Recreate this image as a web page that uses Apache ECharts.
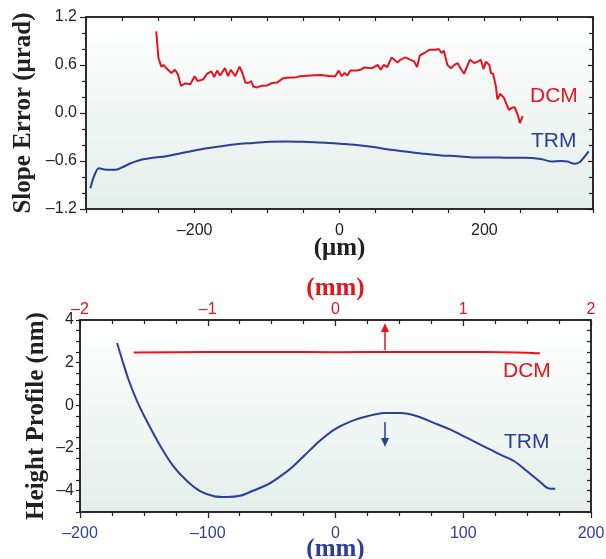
<!DOCTYPE html>
<html><head><meta charset="utf-8">
<script src="https://cdn.jsdelivr.net/npm/echarts@6/dist/echarts.min.js"></script>
<style>html,body{margin:0;padding:0;background:#fff}#c{width:606px;height:559px}</style>
</head><body><div id="c"></div>
<script>
// ---- Top panel: slope error (µrad) vs position (µm)
const dcmSlopeX = [-253,-250,-246,-243,-239,-232,-227,-223,-219,-213,-206,-200,-196,-188,-183,-177,-173,-169,-165,-158,-154,-150,-144,-138,-134,-130,-126,-122,-119,-114,-107,-100,-93,-86,-79,-73,-68,-61,-54,-40,-26,-12,-6,-1,3,7,11,15,24,29,34,45,47,53,57,61,66,72,80,84,91,98,103,107,111,117,124,133,137,141,144,149,154,158,163,167,172,177,180,186,190,195,199,202,207,209,212,216,218,222,227,231,234,239,242,246,249,253];
const dcmSlopeY = [1.02,0.69,0.58,0.60,0.56,0.50,0.54,0.48,0.34,0.37,0.36,0.46,0.40,0.42,0.49,0.52,0.45,0.53,0.47,0.56,0.46,0.54,0.46,0.58,0.50,0.38,0.375,0.40,0.33,0.32,0.34,0.345,0.375,0.38,0.43,0.44,0.445,0.445,0.46,0.47,0.475,0.46,0.46,0.53,0.46,0.50,0.47,0.53,0.53,0.54,0.57,0.56,0.54,0.60,0.54,0.60,0.575,0.695,0.63,0.665,0.695,0.665,0.645,0.575,0.72,0.75,0.79,0.79,0.80,0.75,0.78,0.60,0.56,0.595,0.625,0.56,0.49,0.60,0.665,0.625,0.64,0.665,0.55,0.64,0.60,0.50,0.49,0.33,0.17,0.24,0.19,0.10,0.04,0.07,0.07,-0.02,-0.125,-0.04];
const trmSlopeX = [-344,-332,-322,-309,-299,-290,-276,-258,-239,-212,-189,-166,-143,-119,-96,-73,-50,-27,-4,24,47,71,94,117,140,163,186,209,232,255,278,292,306,315,324,331,344];
const trmSlopeY = [-0.94,-0.69,-0.71,-0.71,-0.675,-0.635,-0.59,-0.56,-0.54,-0.49,-0.45,-0.42,-0.39,-0.375,-0.36,-0.355,-0.36,-0.37,-0.38,-0.40,-0.425,-0.46,-0.485,-0.51,-0.53,-0.54,-0.555,-0.555,-0.56,-0.56,-0.575,-0.605,-0.60,-0.605,-0.635,-0.62,-0.48];

// ---- Bottom panel: height profile (nm)
const trmHeightX = [-171,-167,-162,-155,-147,-137,-127,-116,-106,-95,-85,-74,-64,-53,-43,-33,-20,-12,-1,12,25,38,51,64,77,90,103,116,129,140,150,160,167,172];
const trmHeightY = [2.92,2.14,1.20,0.15,-0.82,-1.92,-2.85,-3.56,-4.02,-4.26,-4.30,-4.23,-3.99,-3.71,-3.32,-2.85,-2.10,-1.65,-1.14,-0.75,-0.51,-0.36,-0.36,-0.51,-0.82,-1.14,-1.53,-1.92,-2.31,-2.62,-3.09,-3.58,-3.90,-3.91];
const dcmHeightX = [-1.58,-1.0,-0.5,0,0.5,1.0,1.3,1.5,1.6];   // mm (top axis)
const dcmHeightY = [2.48,2.5,2.5,2.49,2.5,2.5,2.49,2.47,2.44];

const seriesNames = ['DCM','TRM'];
const RED = '#e8141c', BLUE = '#2b3f98', INK = '#231f20';
const zip = (a,b) => a.map((v,i)=>[v,b[i]]);
const dash = s => String(s).replace('-', '\u2013');
const near = (v,step) => Math.abs(v/step - Math.round(v/step)) < 1e-6;

const bg = {type:'linear',x:0,y:0,x2:0,y2:1,colorStops:[{offset:0,color:'#ffffff'},{offset:1,color:'#e3eeea'}]};
const SANS = 'Liberation Sans, Arial, sans-serif';
const SERIF = 'Liberation Serif, Times New Roman, serif';
const axisLine = {show:true, onZero:false, lineStyle:{color:INK, width:1.5}};
const titleStyle = c => ({fontFamily:SERIF, fontWeight:'bold', fontSize:25, color:c});

const chart = echarts.init(document.getElementById('c'), null, {renderer:'canvas'});
chart.setOption({
  animation:false,
  grid:[
    {left:86, top:17, width:507, height:192, show:true, backgroundColor:bg, borderColor:INK, borderWidth:1.5, outerBoundsMode:'none', containLabel:false},
    {left:80, top:320, width:511, height:192, show:true, backgroundColor:bg, borderColor:INK, borderWidth:1.5, outerBoundsMode:'none', containLabel:false}
  ],
  xAxis:[
    {gridIndex:0, type:'value', min:-350, max:350, interval:50, position:'bottom',
     axisLine, splitLine:{show:false}, axisTick:{length:4, lineStyle:{color:INK,width:1.2}},
     axisLabel:{fontFamily:SANS, fontSize:16, color:INK, margin:14, formatter:v=>near(v,200)?dash(v):''},
     name:'(\u03bcm)', nameLocation:'middle', nameGap:27, nameMoveOverlap:false, nameTextStyle:titleStyle(INK)},
    {gridIndex:0, type:'value', min:-350, max:350, interval:50, position:'top',
     axisLine, splitLine:{show:false}, axisTick:{inside:true, length:4, lineStyle:{color:INK,width:1.2}}, axisLabel:{show:false}},
    {gridIndex:1, type:'value', min:-200, max:200, interval:100, position:'bottom',
     axisLine, splitLine:{show:false}, axisTick:{length:6, lineStyle:{color:INK,width:1.2}},
     minorTick:{show:true, splitNumber:4, length:4, lineStyle:{color:INK,width:1.2}}, minorSplitLine:{show:false},
     axisLabel:{fontFamily:SANS, fontSize:16, color:BLUE, margin:14, formatter:v=>dash(v)},
     name:'(mm)', nameLocation:'middle', nameGap:25, nameMoveOverlap:false, nameTextStyle:titleStyle(BLUE)},
    {gridIndex:1, type:'value', min:-2, max:2, interval:1, position:'top',
     axisLine, splitLine:{show:false}, axisTick:{inside:true, length:6, lineStyle:{color:INK,width:1.2}},
     minorTick:{show:true, splitNumber:4, length:4, lineStyle:{color:INK,width:1.2}}, minorSplitLine:{show:false},
     axisLabel:{fontFamily:SANS, fontSize:16, color:RED, margin:2, formatter:v=>dash(v)},
     name:'(mm)', nameLocation:'middle', nameGap:19, nameMoveOverlap:false, nameTextStyle:titleStyle(RED)}
  ],
  yAxis:[
    {gridIndex:0, type:'value', min:-1.2, max:1.2, interval:0.6, position:'left',
     axisLine, splitLine:{show:false}, axisTick:{length:6, lineStyle:{color:INK,width:1.2}},
     minorTick:{show:true, splitNumber:3, length:4, lineStyle:{color:INK,width:1.2}}, minorSplitLine:{show:false},
     axisLabel:{fontFamily:SANS, fontSize:16, color:INK, margin:9, formatter:v=>dash(v.toFixed(1))},
     name:'Slope Error (\u03bcrad)', nameLocation:'middle', nameGap:50, nameMoveOverlap:false, nameTextStyle:titleStyle(INK)},
    {gridIndex:0, type:'value', min:-1.2, max:1.2, interval:0.6, position:'right',
     axisLine, splitLine:{show:false}, axisTick:{inside:true, length:5, lineStyle:{color:INK,width:1.2}},
     minorTick:{show:true, splitNumber:3, length:4, lineStyle:{color:INK,width:1.2}}, minorSplitLine:{show:false},
     axisLabel:{show:false}},
    {gridIndex:1, type:'value', min:-5, max:4, interval:0.5, position:'left',
     axisLine, splitLine:{show:false}, axisTick:{length:4, lineStyle:{color:INK,width:1.2}},
     axisLabel:{fontFamily:SANS, fontSize:16, color:INK, margin:6, formatter:v=>(near(v,2)?dash(Math.round(v)):'')},
     name:'Height Profile (nm)', nameLocation:'middle', nameGap:31, nameMoveOverlap:false, nameTextStyle:titleStyle(INK)},
    {gridIndex:1, type:'value', min:-5, max:4, interval:0.5, position:'right',
     axisLine, splitLine:{show:false}, axisTick:{inside:true, length:4, lineStyle:{color:INK,width:1.2}},
     axisLabel:{show:false}}
  ],
  series:[
    {name:seriesNames[0], type:'line', xAxisIndex:0, yAxisIndex:0, data:zip(dcmSlopeX,dcmSlopeY), showSymbol:false, lineStyle:{color:RED,width:2}},
    {name:seriesNames[1], type:'line', xAxisIndex:0, yAxisIndex:0, data:zip(trmSlopeX,trmSlopeY), showSymbol:false, smooth:0.3, lineStyle:{color:BLUE,width:2}},
    {name:seriesNames[0], type:'line', xAxisIndex:3, yAxisIndex:2, data:zip(dcmHeightX,dcmHeightY), showSymbol:false, smooth:0.3, lineStyle:{color:RED,width:2}},
    {name:seriesNames[1], type:'line', xAxisIndex:2, yAxisIndex:2, data:zip(trmHeightX,trmHeightY), showSymbol:false, smooth:0.3, lineStyle:{color:BLUE,width:2}}
  ],
  graphic:[
    {type:'text', left:530, top:86, style:{text:seriesNames[0], fill:RED, font:'21px '+SANS}},
    {type:'text', left:531, top:131, style:{text:seriesNames[1], fill:BLUE, font:'21px '+SANS}},
    {type:'text', left:503, top:361, style:{text:seriesNames[0], fill:RED, font:'21px '+SANS}},
    {type:'text', left:504, top:432, style:{text:seriesNames[1], fill:BLUE, font:'21px '+SANS}},
    {type:'line', shape:{x1:385,y1:350,x2:385,y2:330}, style:{stroke:RED, lineWidth:1.5}},
    {type:'polygon', shape:{points:[[385,323],[381,332],[389,332]]}, style:{fill:RED}},
    {type:'line', shape:{x1:385,y1:422,x2:385,y2:440}, style:{stroke:BLUE, lineWidth:1.5}},
    {type:'polygon', shape:{points:[[385,447],[381,438],[389,438]]}, style:{fill:BLUE}}
  ]
});
</script></body></html>
